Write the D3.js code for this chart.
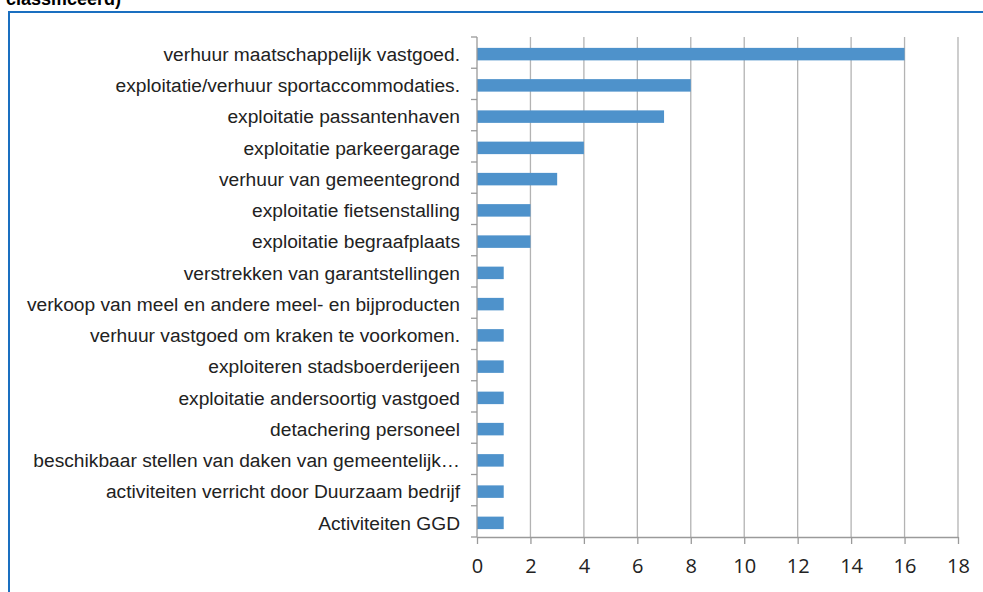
<!DOCTYPE html>
<html>
<head>
<meta charset="utf-8">
<script src="https://cdn.jsdelivr.net/npm/d3@7"></script>
<style>
  body { margin: 0; background: #fff; }
  svg { display: block; }
</style>
</head>
<body>
<svg id="chart" width="983" height="592"></svg>
<script>
const categories = [
  "verhuur maatschappelijk vastgoed.",
  "exploitatie/verhuur sportaccommodaties.",
  "exploitatie passantenhaven",
  "exploitatie parkeergarage",
  "verhuur van gemeentegrond",
  "exploitatie fietsenstalling",
  "exploitatie begraafplaats",
  "verstrekken van garantstellingen",
  "verkoop van meel en andere meel- en bijproducten",
  "verhuur vastgoed om kraken te voorkomen.",
  "exploiteren stadsboerderijeen",
  "exploitatie andersoortig vastgoed",
  "detachering personeel",
  "beschikbaar stellen van daken van gemeentelijk…",
  "activiteiten verricht door Duurzaam bedrijf",
  "Activiteiten GGD"
];
const counts = [16, 8, 7, 4, 3, 2, 2, 1, 1, 1, 1, 1, 1, 1, 1, 1];
const xTicks = [0, 2, 4, 6, 8, 10, 12, 14, 16, 18];

const svg = d3.select("#chart");
const margin = { top: 37, left: 477 };
const width = 983, height = 592;
const innerW = 958 - margin.left;
const innerH = 537 - margin.top;

// title, cut off at the top-left in the source
svg.append("text")
  .attr("x", 121)
  .attr("y", 5)
  .attr("text-anchor", "end")
  .attr("font-family", "Liberation Sans, Arial, sans-serif")
  .attr("font-weight", "bold")
  .attr("font-size", 18)
  .attr("fill", "#000")
  .text("classificeerd)");

// frame
svg.append("path")
  .attr("d", `M9,${height + 5} V12 H${width + 5}`)
  .attr("fill", "none")
  .attr("stroke", "#1a6fc0")
  .attr("stroke-width", 2);

const g = svg.append("g")
  .attr("transform", `translate(${margin.left},${margin.top})`);

const x = d3.scaleLinear().domain([0, 18]).range([0, innerW]);
const y = d3.scaleBand().domain(categories).range([0, innerH]).paddingInner(0.6).paddingOuter(0.3);

// gridlines
g.append("g")
  .selectAll("line")
  .data(xTicks.slice(1))
  .join("line")
  .attr("x1", d => x(d)).attr("x2", d => x(d))
  .attr("y1", 0).attr("y2", innerH)
  .attr("stroke", "#b3b3b3")
  .attr("stroke-width", 1.3);

// bars
g.append("g")
  .selectAll("rect")
  .data(categories)
  .join("rect")
  .attr("x", 0)
  .attr("y", d => y(d) + 1.5)
  .attr("width", (d, i) => x(counts[i]))
  .attr("height", y.bandwidth())
  .attr("fill", "#4e92cb");

// x axis
const xAxis = g.append("g")
  .attr("transform", `translate(0,${innerH})`)
  .call(d3.axisBottom(x).tickValues(xTicks).tickSize(7).tickPadding(15).tickSizeOuter(0));
xAxis.select(".domain").attr("stroke", "#9a9a9a").attr("stroke-width", 1.3);
xAxis.selectAll(".tick line").attr("stroke", "#9a9a9a").attr("stroke-width", 1.3);
xAxis.selectAll("text")
  .attr("font-family", "Open Sans, Liberation Sans, sans-serif")
  .attr("font-size", 20)
  .attr("fill", "#222");

// y axis with ticks between categories
const step = innerH / categories.length;
const yLine = g.append("g");
yLine.append("line")
  .attr("x1", 0).attr("x2", 0).attr("y1", 0).attr("y2", innerH)
  .attr("stroke", "#9a9a9a").attr("stroke-width", 1.3);
yLine.selectAll("line.tk")
  .data(d3.range(categories.length + 1))
  .join("line")
  .attr("class", "tk")
  .attr("x1", -6).attr("x2", 0)
  .attr("y1", i => i * step).attr("y2", i => i * step)
  .attr("stroke", "#9a9a9a").attr("stroke-width", 1.3);

g.append("g")
  .selectAll("text")
  .data(categories)
  .join("text")
  .attr("x", -17)
  .attr("y", d => y(d) + y.bandwidth() / 2 + 1.5)
  .attr("dy", "0.35em")
  .attr("text-anchor", "end")
  .attr("font-family", "Liberation Sans, Arial, sans-serif")
  .attr("font-size", 19.2)
  .attr("fill", "#222")
  .text(d => d);
</script>
</body>
</html>
